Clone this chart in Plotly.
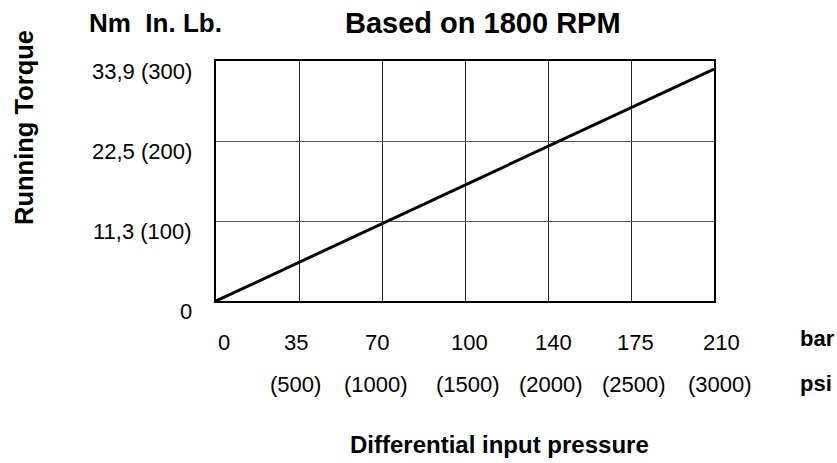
import plotly.graph_objects as go

# Data
pressure_psi = [0, 3000]            # differential input pressure (psi)
torque_inlb = [0, 290]              # running torque (in. lb.)

x_grid_psi = [0, 500, 1000, 1500, 2000, 2500, 3000]
bar_labels = ["0", "35", "70", "100", "140", "175", "210"]
psi_labels = ["", "(500)", "(1000)", "(1500)", "(2000)", "(2500)", "(3000)"]

y_grid_inlb = [0, 100, 200, 300]
y_labels = ["0", "11,3 (100)", "22,5 (200)", "33,9 (300)"]

# style: small horizontal nudges of the label texts (pixels)
bar_nudge = [8, -3, -5, 4, 5, 4, 7]
psi_nudge = [0, -4, -6, 3, 3, 3, 6]

FONT = "Liberation Sans, Arial, sans-serif"
W, H = 837, 463

fig = go.Figure()
fig.add_trace(go.Scatter(
    x=pressure_psi, y=torque_inlb, mode="lines",
    line=dict(color="#000000", width=3), showlegend=False, hoverinfo="skip",
))

annotations = []
for v, t in zip(y_grid_inlb, y_labels):
    annotations.append(dict(
        x=0, xref="paper", y=v, yref="y", text=t, showarrow=False,
        xanchor="right", yanchor="middle", xshift=-22, yshift=-10,
        font=dict(family=FONT, size=22, color="#000"),
    ))
for v, b, p, nb, npz in zip(x_grid_psi, bar_labels, psi_labels, bar_nudge, psi_nudge):
    annotations.append(dict(
        x=v, xref="x", y=0, yref="paper", text=b, showarrow=False,
        xanchor="center", yanchor="middle", xshift=nb, yshift=-41,
        font=dict(family=FONT, size=22, color="#000"),
    ))
    if p:
        annotations.append(dict(
            x=v, xref="x", y=0, yref="paper", text=p, showarrow=False,
            xanchor="center", yanchor="middle", xshift=npz, yshift=-83,
            font=dict(family=FONT, size=22, color="#000"),
        ))

# pixel-positioned labels (page pixels)
px_labels = [
    (798, 338, "<b>bar</b>", "left", 0, 22),
    (798, 383, "<b>psi</b>", "left", 0, 22),
    (499, 444, "<b>Differential input pressure</b>", "center", 0, 24),
    (24, 128, "<b>Running Torque</b>", "center", -90, 25.5),
    (87, 23, "<b>Nm  In. Lb.</b>", "left", 0, 26),
    (483, 23, "<b>Based on 1800 RPM</b>", "center", 0, 29),
]

L, R, T, B = 216, 837 - 714, 61, 463 - 301
pw, ph = W - L - R, H - T - B
for x, y, t, xa, ang, sz in px_labels:
    annotations.append(dict(
        x=(x - L) / pw, y=(H - y - B) / ph, xref="paper", yref="paper",
        text=t, showarrow=False, xanchor=xa, yanchor="middle", textangle=ang,
        font=dict(family=FONT, size=sz, color="#000"),
    ))

fig.update_layout(
    width=W, height=H,
    margin=dict(l=L, r=R, t=T, b=B, autoexpand=False),
    paper_bgcolor="white", plot_bgcolor="white",
    font=dict(family=FONT, color="#000"),
    annotations=annotations,
    xaxis=dict(range=[0, 3000], tickvals=x_grid_psi, showticklabels=False, ticks="",
               showgrid=True, gridcolor="#222", gridwidth=1, zeroline=False,
               showline=True, linecolor="#000", linewidth=1.5, mirror=True, fixedrange=True),
    yaxis=dict(range=[0, 300], tickvals=y_grid_inlb, showticklabels=False, ticks="",
               showgrid=True, gridcolor="#555", gridwidth=1, zeroline=False,
               showline=True, linecolor="#000", linewidth=1.5, mirror=True, fixedrange=True),
)

fig.write_html(
    "out.html",
    config={"displayModeBar": False},
    post_script="document.body.style.margin='0';document.body.style.overflow='hidden';",
)
